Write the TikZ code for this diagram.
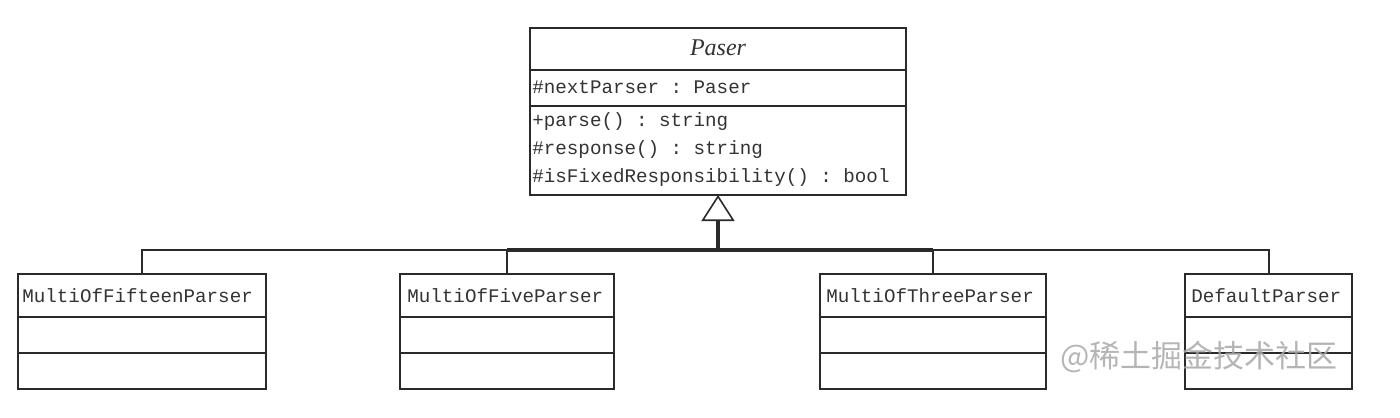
\documentclass[tikz,border=0pt]{standalone}
\usepackage{fontspec}
\setmonofont{Liberation Mono}
\newfontfamily\serifit{Liberation Serif}
\newfontfamily\cjk{Noto Sans CJK SC}
\usetikzlibrary{arrows.meta}
\definecolor{linec}{HTML}{2A2A2A}
\definecolor{textc}{HTML}{333333}
\definecolor{wmark}{HTML}{A8A8A8}
\begin{document}
\begin{tikzpicture}[x=0.5pt,y=-0.5pt,
  box/.style={draw=linec, line width=1pt, fill=white, inner sep=0pt, outer sep=0pt, anchor=north west},
  divider/.style={draw=linec, line width=1pt},
  lbl/.style={anchor=west, inner sep=0pt, text=textc, font=\ttfamily\fontsize{9.6pt}{11pt}\selectfont},
  conn/.style={draw=linec, line width=1pt},
  gen/.style={draw=linec, line width=1.6pt, -{Triangle[open, length=13pt, width=16.5pt, line width=0.8pt]}}
]
\useasboundingbox (0,0) rectangle (1400,417);
% Paser class
\node[box, minimum width=188pt, minimum height=83.5pt] (paser) at (530,28) {};
\draw[divider] (530,70) -- (906,70);
\draw[divider] (530,106) -- (906,106);
\node[inner sep=0pt, text=textc, font=\serifit\itshape\fontsize{12pt}{14pt}\selectfont] (pname) at (718,48) {Paser};
\node[lbl] (pattr) at (532,87) {\#nextParser : Paser};
\node[lbl] (pm1) at (532,122) {+parse() : string};
\node[lbl] (pm2) at (532,150) {\#response() : string};
\node[lbl] (pm3) at (532,178) {\#isFixedResponsibility() : bool};
% Child classes
\node[box, minimum width=124pt, minimum height=57.5pt] (fifteen) at (18,274) {};
\draw[divider] (18,317) -- (266,317);
\draw[divider] (18,353) -- (266,353);
\node[lbl] (tfifteen) at (22,296) {MultiOfFifteenParser};

\node[box, minimum width=107pt, minimum height=57.5pt] (five) at (400,274) {};
\draw[divider] (400,317) -- (614,317);
\draw[divider] (400,353) -- (614,353);
\node[lbl] (tfive) at (407,296) {MultiOfFiveParser};

\node[box, minimum width=113pt, minimum height=57.5pt] (three) at (820,274) {};
\draw[divider] (820,317) -- (1046,317);
\draw[divider] (820,353) -- (1046,353);
\node[lbl] (tthree) at (826,296) {MultiOfThreeParser};

\node[box, minimum width=83.5pt, minimum height=57.5pt] (defaultp) at (1185,274) {};
\draw[divider] (1185,317) -- (1352,317);
\draw[divider] (1185,353) -- (1352,353);
\node[lbl] (tdefault) at (1191,296) {DefaultParser};
% Connectors
\coordinate (j) at (718,250);
\draw[conn] (fifteen.north) |- (j);
\draw[conn] (five.north) |- (j);
\draw[conn] (three.north) |- (j);
\draw[conn] (defaultp.north) |- (j);
\draw[line width=1.6pt, draw=linec] (five.north |- j) -- (three.north |- j);
\draw[gen] (j) -- (paser.south);
% Watermark
\node[anchor=west, inner sep=0pt, text=wmark, opacity=0.85, font=\cjk\fontsize{15.5pt}{17pt}\selectfont] (wm) at (1060,357) {@稀土掘金技术社区};
\end{tikzpicture}
\end{document}
